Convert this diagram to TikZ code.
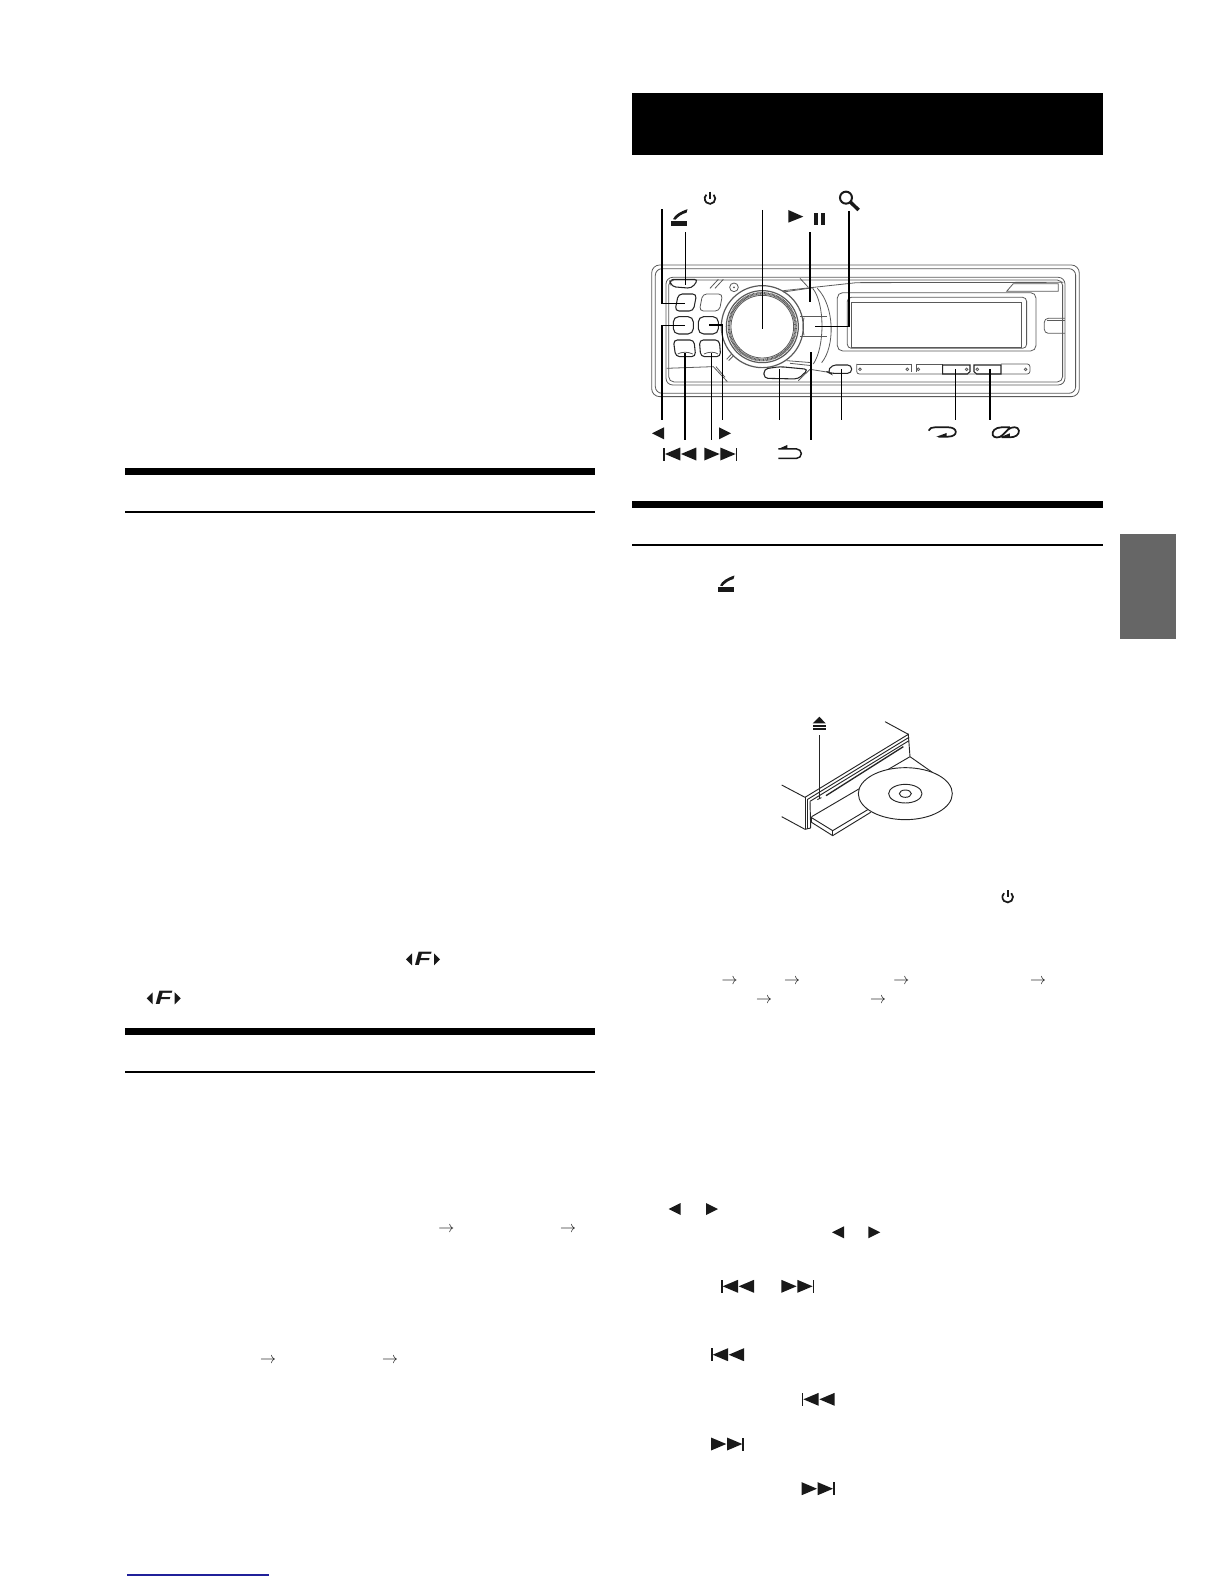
\documentclass[tikz,border=0pt]{standalone}
\usepackage{fontspec}
\setsansfont{Liberation Sans}
\definecolor{devgray}{HTML}{5A5A5A}
\definecolor{tabgray}{HTML}{666666}
\definecolor{linknavy}{HTML}{20209A}
\tikzset{every picture/.style={line width=0.75pt}}
\tikzset{
	devline/.style={draw=devgray,line width=0.6pt},
	devdark/.style={draw=black!85,line width=0.8pt},
	callout/.style={draw=black,line width=1.2pt},
	drive/.style={draw=black!85,line width=0.7pt},
	flowarrow/.style={inner sep=0pt,text=black!90,font=\fontsize{12}{14}\selectfont},
	iconleft/.pic={\fill[black!90] (0,0) -- (12,-6) -- (12,6) -- cycle ;},
	iconright/.pic={\fill[black!90] (0,-6) -- (12,0) -- (0,6) -- cycle ;},
	iconprev/.pic={
		\fill[black!90] (0,-6.5) rectangle (1.7,6.5) ;
		\fill[black!90] (1.7,0) -- (17,-6.5) -- (17,6.5) -- cycle ;
		\fill[black!90] (17.7,0) -- (33,-6.5) -- (33,6.5) -- cycle ;},
	iconnext/.pic={
		\fill[black!90] (31.3,-6.5) rectangle (33,6.5) ;
		\fill[black!90] (0,-6.5) -- (15.3,0) -- (0,6.5) -- cycle ;
		\fill[black!90] (16,-6.5) -- (31.3,0) -- (16,6.5) -- cycle ;},
	iconpower/.pic={
		\draw[black!90,line width=1.3pt] (3.6,3.8) arc (47:-227:5.3) ;
		\draw[black!90,line width=1.3pt] (0,7) -- (0,0) ;},
	iconphone/.pic={
		\fill[black!90] (0,0) rectangle (16,-5) ;
		\fill[black!90] (2,1.5) .. controls (4,6) and (9,9) .. (16.5,11.5) -- (15.5,8) .. controls (11,7) and (7,4) .. (4.5,1) -- cycle ;},
	iconfn/.pic={
		\fill[black!90] (0,0) -- (6,-6) -- (6,6) -- cycle ;
		\fill[black!90] (34,0) -- (28,-6) -- (28,6) -- cycle ;
		\node[inner sep=0pt,xscale=1.4,text=black!90,font=\fontsize{14.5}{14.5}\sffamily\bfseries\itshape\selectfont] (-letter) at (17,0) {F};},
}
\begin{document}
\begin{tikzpicture}[x=0.75pt,y=0.75pt,yscale=-1,xscale=1]
	\useasboundingbox (0,0) rectangle (1224,1584);
	
	%Left column rules
	\fill[black] (125,468) rectangle (595,474.5);
	\fill[black] (125,511) rectangle (595,513);
	\fill[black] (125,1028) rectangle (595,1034.5);
	\fill[black] (125,1071) rectangle (595,1073);
	\fill[linknavy] (127,1574) rectangle (269,1575.5);
	
	%Right column header and rules
	\fill[black] (632,93) rectangle (1103,155);
	\fill[black] (632,501) rectangle (1103,507.5);
	\fill[black] (632,544) rectangle (1103,546);
	\fill[tabgray] (1120,534) rectangle (1176,639);
	
	%Head unit, coordinates at three times page size
	\begin{scope}[shift={(630,170)},scale=0.3333]
		\draw[devline,rounded corners=6pt] (65,285) rectangle (1348,680);
		\draw[devline,rounded corners=5pt] (76,296) rectangle (1337,670);
		\draw[devline,rounded corners=5pt] (108,322) rectangle (1305,645);
		\draw[devline,rounded corners=4pt] (116,330) rectangle (1298,636);
		
		%Display
		\draw[devline,rounded corners=4pt] (622,368) rectangle (1218,543);
		\draw[devline,rounded corners=3pt] (652,382) rectangle (1190,535);
		\draw[devline] (665,397) rectangle (1173,533);
		\draw[devline] (665,533) -- (1173,533);
		\draw[devline,rounded corners=3pt] (1305,445) -- (1243,445) -- (1243,490) -- (1305,490);
		\draw[devline] (1250,452) -- (1305,452);
		
		%Top edge
		\draw[devline] (460,362) -- (680,338) -- (1300,337);
		\draw[devline] (1130,364) -- (1150,341) -- (1285,341) -- (1285,364) -- cycle;
		\draw[devline] (240,355) -- (265,328);
		\draw[devline] (255,355) -- (280,328);
		\draw[devline] (510,325) -- (535,352);
		\draw[devline] (312,352) circle (13);
		\fill[devgray] (312,352) circle (3);
		
		%Left buttons
		\draw[devdark,rounded corners=3pt] (118,328) -- (205,328) -- (185,355) -- (125,350) -- cycle;
		\draw[devdark,rounded corners=3pt] (145,372) -- (200,372) -- (190,423) -- (135,423) -- cycle;
		\draw[devline,rounded corners=3pt] (218,372) -- (278,372) -- (268,423) -- (208,423) -- cycle;
		\draw[devdark,rounded corners=4pt] (130,440) rectangle (190,492);
		\draw[devdark,rounded corners=4pt] (205,440) rectangle (265,492);
		\draw[devdark,rounded corners=3pt] (130,510) -- (192,510) -- (197,560) -- (137,560) -- cycle;
		\draw[devdark,rounded corners=3pt] (208,510) -- (268,510) -- (272,560) -- (212,560) -- cycle;
		\draw[devline] (143,552) .. controls (155,545) and (175,545) .. (188,552);
		\draw[devline] (222,552) .. controls (235,545) and (255,545) .. (264,552);
		\draw[devline] (290,568) -- (304,553);
		\draw[devline] (296,572) -- (310,558);
		
		%Knob
		\draw[draw=devgray,line width=0.9pt] (397,470) circle (123);
		\draw[draw=devgray,line width=0.9pt] (397,470) circle (108);
		\draw[draw=devgray,line width=2pt,dash pattern=on 0.6pt off 0.4pt] (397,470) circle (100);
		\draw[devline] (397,470) circle (94);
		
		%Right of knob
		\draw[devline] (460,366) -- (550,353);
		\draw[devline] (548,355) .. controls (585,400) and (585,530) .. (550,582);
		\draw[devline] (562,355) .. controls (615,410) and (615,530) .. (575,578);
		\draw[devline] (510,440) -- (590,440);
		\draw[devline] (510,498) -- (590,498);
		\draw[devline] (522,443) .. controls (518,460) and (518,480) .. (522,496);
		\draw[devline] (470,572) -- (545,578);
		\draw[devline] (480,580) -- (545,587);
		
		%Lower buttons and bar
		\draw[devline] (110,595) -- (250,590) -- (292,635);
		\draw[devline] (258,590) -- (285,622);
		\draw[devdark,rounded corners=3pt] (402,597) -- (450,590) -- (535,598) -- (505,627) -- (402,625) -- cycle;
		\draw[devline] (505,632) -- (540,598);
		\draw[devline] (540,598) -- (590,606);
		\draw[devdark,rounded corners=3pt] (592,606) -- (606,585) -- (665,585) -- (665,610) -- (600,610) -- cycle;
		\draw[devline,rounded corners=2pt] (680,582) -- (845,582);
		\draw[devline,rounded corners=2pt] (680,582) -- (680,612) -- (1200,612) -- (1200,582) -- (1113,582);
		\draw[devline] (858,582) -- (938,582);
		\draw[devline] (845,582) -- (845,605);
		\draw[devline] (858,582) -- (858,605);
		\draw[devdark] (938,585) -- (1020,585) -- (1020,605) -- (1012,612) -- (938,612) -- cycle;
		\draw[devdark] (1032,585) -- (1113,585) -- (1113,612) -- (1040,612) -- (1032,605) -- cycle;
		\foreach \dotx in {690,832,865,1010,1042,1187} {
			\draw[devline] (\dotx,598) circle (4);
		}
		
		%Callout ends
		\coordinate (lblKeyA) at (96,118);
		\coordinate (btnKeyA) at (165,400);
		\coordinate (lblPhone) at (167,187);
		\coordinate (btnPhone) at (167,345);
		\coordinate (lblKnob) at (397,120);
		\coordinate (btnKnob) at (397,477);
		\coordinate (lblPlay) at (540,187);
		\coordinate (btnPlay) at (540,395);
		\coordinate (lblSearch) at (657,123);
		\coordinate (btnSearch) at (555,470);
		\coordinate (lblLeft) at (96,750);
		\coordinate (btnLeft) at (165,467);
		\coordinate (lblPrev) at (165,810);
		\coordinate (btnPrev) at (165,550);
		\coordinate (lblNext) at (244,810);
		\coordinate (btnNext) at (244,550);
		\coordinate (lblRight) at (278,750);
		\coordinate (btnRight) at (238,465);
		\coordinate (lblKeyB) at (448,750);
		\coordinate (btnKeyB) at (448,597);
		\coordinate (lblBack) at (543,810);
		\coordinate (btnBack) at (543,545);
		\coordinate (lblKeyC) at (634,750);
		\coordinate (btnKeyC) at (634,597);
		\coordinate (lblRepeat) at (977,750);
		\coordinate (btnRepeat) at (977,597);
		\coordinate (lblMix) at (1080,750);
		\coordinate (btnMix) at (1080,597);
		
		\draw[callout] (lblKeyA) |- (btnKeyA);
		\draw[callout] (lblPhone) -- (btnPhone);
		\draw[callout] (lblKnob) -- (btnKnob);
		\draw[callout] (lblPlay) -- (btnPlay);
		\draw[callout] (lblSearch) |- (btnSearch);
		\draw[callout] (lblLeft) |- (btnLeft);
		\draw[callout] (lblPrev) -- (btnPrev);
		\draw[callout] (lblNext) -- (btnNext);
		\draw[callout] (lblRight) |- (btnRight);
		\draw[callout] (lblKeyB) -- (btnKeyB);
		\draw[callout] (lblBack) -- (btnBack);
		\draw[callout] (lblKeyC) -- (btnKeyC);
		\draw[callout] (lblRepeat) -- (btnRepeat);
		\draw[callout] (lblMix) -- (btnMix);
		
		%Play, pause and search marks
		\fill[black!90] (475,120) -- (520,140) -- (475,158) -- cycle;
		\fill[black!90] (553,128) rectangle (565,165);
		\fill[black!90] (572,128) rectangle (584,165);
		\draw[black!90,line width=1.5pt] (648,83) circle (18);
		\draw[black!90,line width=2.6pt] (661,96) -- (686,120);
		
		%Back, repeat and mix marks
		\draw[black!90,line width=1.1pt] (445,865) -- (500,865) arc (90:-90:14) -- (445,837);
		\fill[black!90] (445,837) -- (472,825) -- (472,837) -- cycle;
		\draw[black!90,line width=1.3pt] (896,782) .. controls (900,774) and (905,772) .. (915,772) -- (955,772) .. controls (985,772) and (985,800) .. (955,800) -- (925,800);
		\fill[black!90] (918,801) -- (950,789) -- (950,801) -- cycle;
		\draw[black!90,line width=1.3pt] (1140,772) -- (1115,772) .. controls (1095,772) and (1085,785) .. (1088,795) .. controls (1092,805) and (1108,805) .. (1118,795) -- (1135,778) .. controls (1145,770) and (1165,768) .. (1167,782) .. controls (1168,795) and (1155,802) .. (1140,802) -- (1115,802);
		\fill[black!90] (1110,802) -- (1140,790) -- (1140,802) -- cycle;
	\end{scope}
	
	\path (663.3,454) pic (prevA) {iconprev};
	\path (704.3,454) pic (nextA) {iconnext};
	\path (652,433.3) pic (leftA) {iconleft};
	\path (719,433.3) pic (rightA) {iconright};
	\path (710,198.5) pic (powerA) {iconpower};
	\path (671,220.7) pic (phoneA) {iconphone};
	
	%CD drive, coordinates at three times page size
	\begin{scope}[shift={(760,700)},scale=0.3333]
		\fill[black!90] (158,70) -- (178,50) -- (197,70) -- cycle;
		\fill[black!90] (158,76) rectangle (197,82);
		\fill[black!90] (158,85) rectangle (197,91);
		\coordinate (lblEject) at (178,105);
		\coordinate (btnEject) at (178,295);
		\draw[drive] (lblEject) -- (btnEject);
		\draw[drive] (172,299) -- (184,293);
		
		\draw[drive] (375,65) -- (445,103);
		\draw[drive] (65,255) -- (135,292);
		\draw[drive] (65,350) -- (135,388);
		\draw[drive] (135,292) -- (445,103) -- (450,170);
		\draw[drive] (135,292) -- (135,388);
		\draw[drive] (143,298) -- (447,112);
		\draw[drive] (150,304) -- (447,122);
		\draw[drive] (143,298) -- (143,386);
		\draw[drive] (150,304) -- (152,384);
		\draw[drive] (135,388) -- (152,384);
		\draw[black!85,line width=1pt] (198,287) -- (430,140);
		\draw[drive] (450,170) -- (385,208);
		\draw[drive] (450,170) -- (517,217);
		\draw[drive] (155,350) -- (305,262);
		
		%Tray
		\draw[drive] (153,352) -- (218,392) -- (335,322);
		\draw[drive] (153,366) -- (218,407) -- (332,337);
		\draw[drive] (153,352) -- (153,366);
		\draw[drive] (218,392) -- (218,407);
		
		%Disc
		\draw[drive,fill=white] (436,281) ellipse (141 and 78);
		\draw[drive] (436,281) ellipse (50 and 28);
		\draw[drive] (436,281) ellipse (18 and 11);
	\end{scope}
	
	%Marks in the right column
	\path (718,587) pic (phoneB) {iconphone};
	\path (1007.7,897) pic (powerB) {iconpower};
	\path (668.7,1209) pic (leftB) {iconleft};
	\path (706,1209) pic (rightB) {iconright};
	\path (832,1232.3) pic (leftC) {iconleft};
	\path (868.3,1232.3) pic (rightC) {iconright};
	\path (721,1286.3) pic (prevB) {iconprev};
	\path (781.3,1286.3) pic (nextB) {iconnext};
	\path (711,1354.7) pic (prevC) {iconprev};
	\path (801.7,1399.3) pic (prevD) {iconprev};
	\path (711,1444) pic (nextC) {iconnext};
	\path (801.7,1488.7) pic (nextD) {iconnext};
	
	\node[flowarrow] (flowA) at (729.7,981.5) {$\rightarrow$};
	\node[flowarrow] (flowB) at (792,981.5) {$\rightarrow$};
	\node[flowarrow] (flowC) at (901.3,981.5) {$\rightarrow$};
	\node[flowarrow] (flowD) at (1038,981.5) {$\rightarrow$};
	\node[flowarrow] (flowE) at (764,1000.5) {$\rightarrow$};
	\node[flowarrow] (flowF) at (878,1000.5) {$\rightarrow$};
	
	%Marks in the left column
	\path (406,959.3) pic (fnA) {iconfn};
	\path (146.7,998.3) pic (fnB) {iconfn};
	\node[flowarrow] (flowG) at (446.3,1229.8) {$\rightarrow$};
	\node[flowarrow] (flowH) at (568,1229.8) {$\rightarrow$};
	\node[flowarrow] (flowI) at (268,1360.5) {$\rightarrow$};
	\node[flowarrow] (flowJ) at (390,1360.5) {$\rightarrow$};
\end{tikzpicture}
\end{document}
